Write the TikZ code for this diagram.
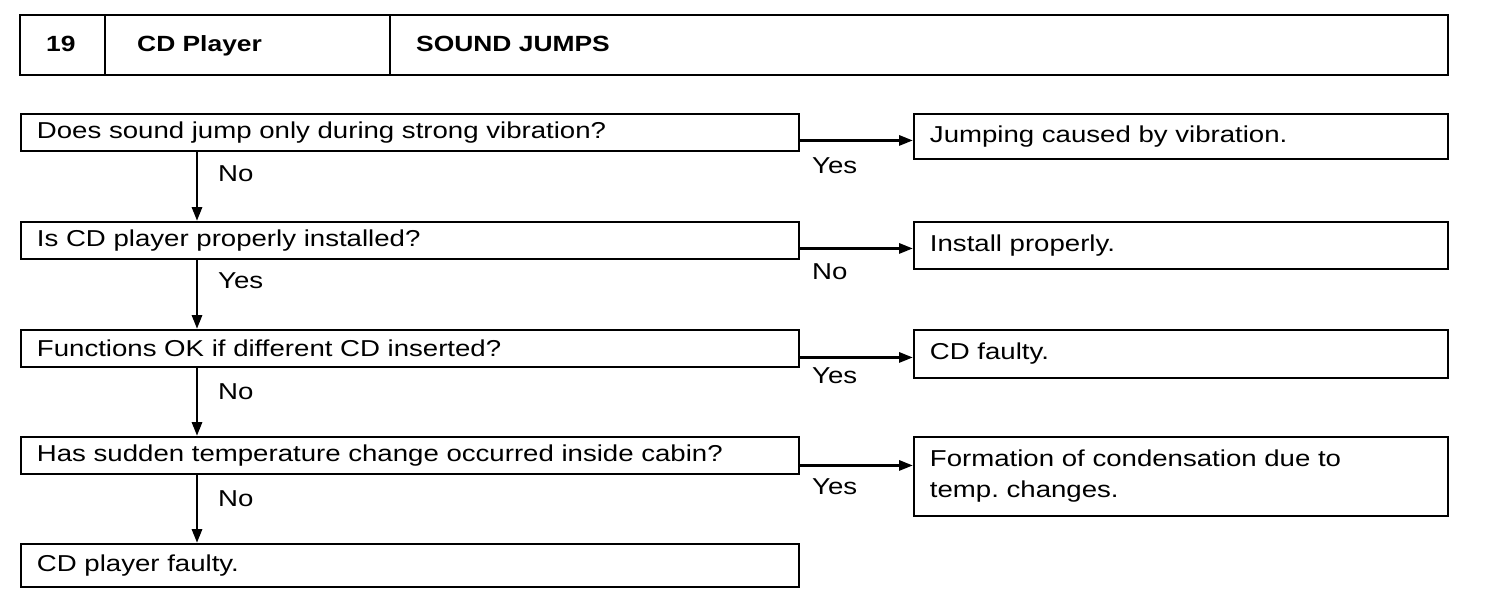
\documentclass[tikz,border=0pt]{standalone}
\usepackage{fontspec}
\setmainfont[FakeStretch=1.2]{Liberation Sans}
\frenchspacing
\usetikzlibrary{arrows.meta,calc}
\begin{document}
\begin{tikzpicture}[x=1pt,y=-1pt,
  every node/.style={font=\fontsize{23}{31}\selectfont},
  qbox/.style={draw,line width=1.9pt,anchor=north west,minimum width=778pt,minimum height=37pt,
    text width=746pt,inner xsep=16pt,inner ysep=0pt,align=left},
  abox/.style={draw,line width=1.9pt,anchor=north west,minimum width=534pt,
    text width=502pt,inner xsep=16pt,inner ysep=0pt,align=left},
  arr/.style={line width=2.9pt,-{Triangle[length=14pt,width=10pt]}},
  lbl/.style={anchor=west,inner sep=0pt},
  hdr/.style={font=\fontsize{22}{24}\selectfont\bfseries,anchor=base west,inner sep=0pt}]
\useasboundingbox (0,0) rectangle (1504,602);
% header
\draw[line width=2.2pt] (20,15) rectangle (1448,75);
\draw[line width=1.8pt] (105,15) -- (105,75);
\draw[line width=1.8pt] (390,15) -- (390,75);
\node[hdr] (hnum) at (46,52) {19};
\node[hdr] (hcat) at (137,52) {CD Player};
\node[hdr] (htit) at (416,52) {SOUND JUMPS};
% question boxes
\node[qbox] (q1) at (20,113) {Does sound jump only during strong vibration?};
\node[qbox] (q2) at (20,221) {Is CD player properly installed?};
\node[qbox] (q3) at (20,329) {Functions OK if different CD inserted?};
\node[qbox] (q4) at (20,436) {Has sudden temperature change occurred inside cabin?};
\node[qbox,minimum height=43pt] (q5) at (20,543) {CD player faulty.};
% answer boxes
\node[abox,minimum height=45pt] (r1) at (913,113) {Jumping caused by vibration.};
\node[abox,minimum height=47pt] (r2) at (913,221) {Install properly.};
\node[abox,minimum height=48pt] (r3) at (913,329) {CD faulty.};
\node[abox,minimum height=79pt] (r4) at (913,436) {Formation of condensation due to\\temp. changes.};
% vertical arrows
\foreach \a/\b in {q1/q2,q2/q3,q3/q4,q4/q5}
  \draw[arr] ([xshift=177pt]\a.south west) -- ([xshift=177pt]\b.north west);
\node[lbl] (l1) at (218,174) {No};
\node[lbl] (l2) at (218,281) {Yes};
\node[lbl] (l3) at (218,392) {No};
\node[lbl] (l4) at (218,499) {No};
% horizontal arrows
\draw[arr] ([yshift=-8pt]q1.east) -- ([yshift=-8pt]q1.east -| r1.west);
\draw[arr] ([yshift=-8pt]q2.east) -- ([yshift=-8pt]q2.east -| r2.west);
\draw[arr] ([yshift=-9pt]q3.east) -- ([yshift=-9pt]q3.east -| r3.west);
\draw[arr] ([yshift=-10pt]q4.east) -- ([yshift=-10pt]q4.east -| r4.west);
\node[lbl] (y1) at (812,166) {Yes};
\node[lbl] (n2) at (812,272) {No};
\node[lbl] (y3) at (812,376) {Yes};
\node[lbl] (y4) at (812,487) {Yes};
\end{tikzpicture}
\end{document}
